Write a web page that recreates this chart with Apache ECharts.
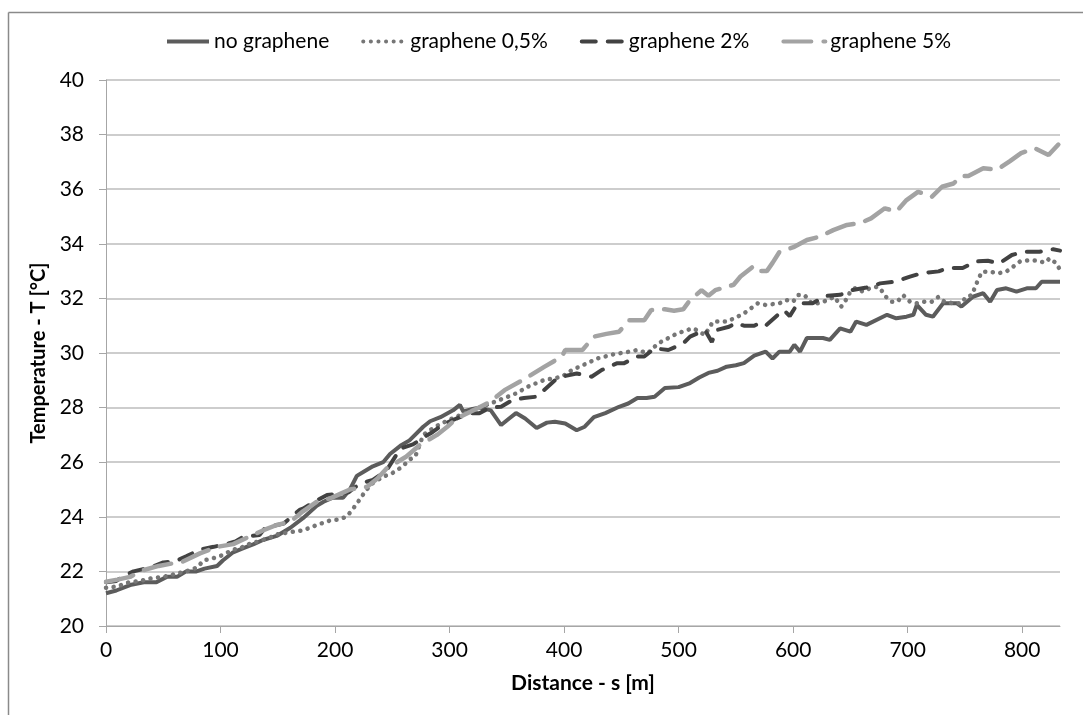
<!DOCTYPE html>
<html>
<head>
<meta charset="utf-8">
<title>Temperature vs distance</title>
<script src="https://cdn.jsdelivr.net/npm/echarts@6/dist/echarts.min.js"></script>
<style>
	html, body { margin: 0; padding: 0; background: #fff; }
	#chart { width: 1083px; height: 715px; }
</style>
</head>
<body>
<div id="chart"></div>
<script>
	// distance [m] / temperature [°C]
	var noGraphene = [
		[0,21.2],[9,21.3],[21,21.5],[33,21.6],[44,21.6],[53,21.8],[62,21.8],[70,22.0],[79,22.0],[86,22.1],
		[97,22.2],[102,22.4],[111,22.7],[120,22.85],[129,23.0],[137,23.15],[149,23.3],[161,23.6],[172,23.95],[184,24.4],
		[190,24.55],[198,24.7],[207,24.7],[213,25.0],[219,25.5],[225,25.65],[233,25.85],[242,26.0],[248,26.3],[257,26.6],
		[265,26.8],[277,27.3],[283,27.5],[292,27.65],[303,27.9],[309,28.1],[312,27.85],[320,27.95],[326,28.0],[336,27.9],
		[345,27.36],[352,27.6],[358,27.8],[366,27.6],[376,27.25],[385,27.45],[392,27.48],[401,27.42],[411,27.17],[418,27.3],
		[426,27.65],[436,27.8],[448,28.03],[456,28.15],[464,28.35],[472,28.35],[479,28.4],[488,28.72],[500,28.75],[510,28.9],
		[518,29.1],[526,29.27],[534,29.35],[542,29.5],[550,29.55],[557,29.63],[566,29.9],[576,30.05],[582,29.8],[588,30.05],
		[597,30.05],[601,30.3],[606,30.05],[612,30.55],[626,30.55],[632,30.48],[641,30.9],[650,30.78],[655,31.15],[664,31.03],
		[682,31.4],[690,31.27],[699,31.33],[705,31.4],[708,31.76],[716,31.4],[722,31.33],[731,31.82],[743,31.82],[747,31.7],
		[757,32.06],[766,32.19],[772,31.88],[778,32.31],[786,32.37],[795,32.25],[804,32.37],[812,32.37],[817,32.61],[833,32.61]
	];
	var graphene05 = [
		[0,21.4],[10,21.45],[20,21.6],[30,21.65],[40,21.75],[50,21.8],[60,21.9],[70,22.0],[80,22.15],[85,22.4],
		[95,22.5],[102,22.6],[111,22.8],[117,22.85],[125,23.0],[133,23.1],[141,23.2],[149,23.35],[155,23.4],[163,23.45],
		[172,23.5],[184,23.7],[196,23.87],[203,23.9],[210,24.0],[214,24.2],[219,24.48],[227,24.97],[233,25.23],[242,25.47],
		[250,25.6],[259,25.84],[265,26.1],[270,26.2],[277,27.0],[284,27.2],[292,27.4],[306,27.67],[320,27.9],[336,28.16],
		[348,28.35],[358,28.52],[370,28.8],[382,29.0],[398,29.13],[407,29.38],[420,29.62],[429,29.8],[443,29.95],[457,30.05],
		[464,30.11],[473,29.99],[482,30.35],[488,30.48],[498,30.7],[507,30.84],[513,30.9],[523,30.66],[530,31.15],[542,31.15],
		[550,31.3],[557,31.45],[569,31.82],[576,31.76],[588,31.82],[594,31.94],[600,31.88],[604,32.12],[610,32.12],[616,31.82],
		[623,31.82],[630,31.94],[636,32.06],[642,31.7],[646,31.94],[650,32.25],[654,32.37],[661,32.25],[667,32.37],[674,32.43],
		[678,32.25],[681,32.06],[686,31.88],[691,31.88],[696,32.12],[702,31.88],[708,31.82],[715,31.88],[721,31.88],[727,32.06],
		[732,31.88],[740,31.82],[747,31.82],[751,32.06],[756,32.12],[762,32.74],[765,32.98],[772,32.98],[779,32.92],[786,32.98],
		[792,33.16],[798,33.35],[805,33.39],[812,33.39],[820,33.31],[824,33.47],[830,33.28],[833,33.04]
	];
	var graphene2 = [
		[0,21.6],[9,21.65],[16,21.85],[24,22.0],[34,22.1],[42,22.2],[50,22.33],[60,22.36],[70,22.55],[82,22.8],
		[94,22.9],[105,23.0],[113,23.1],[120,23.27],[134,23.33],[139,23.6],[155,23.75],[162,24.0],[169,24.25],[172,24.3],
		[184,24.6],[193,24.8],[204,24.85],[212,24.9],[218,25.1],[225,25.25],[233,25.35],[245,25.7],[257,26.5],[268,26.65],
		[277,26.9],[285,27.1],[295,27.4],[306,27.6],[318,27.8],[326,27.79],[335,28.0],[345,28.03],[355,28.28],[365,28.35],
		[376,28.4],[392,29.0],[398,29.13],[411,29.25],[424,29.13],[433,29.38],[446,29.62],[452,29.62],[464,29.87],[470,29.87],
		[479,30.17],[491,30.11],[504,30.35],[510,30.6],[523,30.84],[529,30.4],[533,30.84],[544,30.96],[550,31.1],[557,31.0],
		[566,31.0],[571,31.1],[576,31.0],[588,31.45],[592,31.57],[597,31.35],[604,31.82],[617,31.82],[628,32.09],[641,32.13],
		[652,32.31],[664,32.4],[676,32.55],[689,32.61],[702,32.8],[713,32.93],[727,32.99],[735,33.11],[748,33.11],[759,33.35],
		[770,33.38],[780,33.28],[791,33.59],[802,33.71],[815,33.71],[827,33.8],[833,33.75]
	];
	var graphene5 = [
		[0,21.62],[10,21.7],[21,21.8],[33,22.05],[46,22.2],[59,22.3],[67,22.36],[82,22.66],[97,22.9],[111,23.0],
		[125,23.27],[137,23.5],[149,23.7],[161,23.82],[172,24.2],[184,24.55],[196,24.68],[205,24.85],[213,25.0],[228,25.1],
		[237,25.4],[245,25.77],[262,26.2],[274,26.63],[289,27.0],[298,27.3],[306,27.6],[316,27.8],[324,27.97],[335,28.2],
		[348,28.64],[364,29.01],[383,29.5],[398,29.87],[401,30.11],[416,30.11],[426,30.6],[437,30.7],[448,30.78],[457,31.2],
		[470,31.2],[476,31.57],[488,31.6],[496,31.55],[504,31.6],[510,31.94],[520,32.3],[526,32.1],[532,32.3],[548,32.5],
		[554,32.8],[566,33.2],[572,33.0],[577,33.0],[582,33.3],[588,33.7],[601,33.89],[612,34.14],[623,34.26],[635,34.5],
		[647,34.69],[658,34.75],[668,34.93],[680,35.3],[690,35.18],[699,35.6],[709,35.9],[716,35.82],[721,35.72],[730,36.09],
		[740,36.21],[747,36.48],[753,36.48],[766,36.77],[778,36.71],[789,37.02],[799,37.32],[811,37.5],[823,37.25],[833,37.7]
	];
	var seriesNames = ['no graphene', 'graphene 0,5%', 'graphene 2%', 'graphene 5%'];
	var xTicks = [0, 100, 200, 300, 400, 500, 600, 700, 800];

	var chart = echarts.init(document.getElementById('chart'));
	var font = 'Lato';

	var option = {
		animation: false,
		textStyle: { fontFamily: font, color: '#000' },
		// outer frame of the original picture (only left and top are visible)
		graphic: [
			{ type: 'line', shape: { x1: 8.5, y1: 12.5, x2: 8.5, y2: 715 }, style: { stroke: '#8a8a8a', lineWidth: 1.5 } },
			{ type: 'line', shape: { x1: 8.5, y1: 12.5, x2: 1083, y2: 12.5 }, style: { stroke: '#8a8a8a', lineWidth: 1.5 } }
		],
		legend: {
			data: seriesNames,
			top: 26,
			left: 160,
			itemWidth: 42,
			itemHeight: 14,
			itemGap: 32,
			// no marker on the legend line, just the stroke
			itemStyle: { opacity: 0 },
			lineStyle: { width: 4 },
			textStyle: { fontFamily: font, fontSize: 21, color: '#000' }
		},
		grid: { left: 106, right: 23, top: 80, bottom: 89, containLabel: false },
		xAxis: {
			type: 'value',
			min: 0,
			max: 833,
			name: 'Distance - s [m]',
			nameLocation: 'middle',
			nameGap: 47,
			nameTextStyle: { fontFamily: font, fontSize: 21, fontWeight: 'bold', color: '#000' },
			axisLine: { show: true, lineStyle: { color: '#a6a6a6', width: 1 } },
			axisTick: { show: true, length: 7, customValues: xTicks, lineStyle: { color: '#a6a6a6' } },
			axisLabel: { customValues: xTicks, margin: 14, fontSize: 21, color: '#000', fontFamily: font },
			splitLine: { show: false }
		},
		yAxis: {
			type: 'value',
			min: 20,
			max: 40,
			interval: 2,
			name: 'Temperature - T [°C]',
			nameLocation: 'middle',
			nameGap: 45,
			nameTextStyle: { fontFamily: font, fontSize: 20, fontWeight: 'bold', color: '#000' },
			axisLine: { show: true, lineStyle: { color: '#a6a6a6', width: 1 } },
			axisTick: { show: true, length: 7, lineStyle: { color: '#a6a6a6' } },
			axisLabel: { margin: 22, fontSize: 21, color: '#000', fontFamily: font },
			splitLine: { show: true, lineStyle: { color: '#bcbcbc', width: 1.5 } }
		},
		series: [
			{
				name: seriesNames[0], type: 'line', symbol: 'none', data: noGraphene,
				lineStyle: { color: '#5c5c5c', width: 4, type: 'solid' },
				itemStyle: { color: '#5c5c5c' }
			},
			{
				name: seriesNames[1], type: 'line', symbol: 'none', data: graphene05,
				lineStyle: { color: '#767676', width: 4.5, type: [0.1, 7.5], cap: 'round' },
				itemStyle: { color: '#767676' }
			},
			{
				name: seriesNames[2], type: 'line', symbol: 'none', data: graphene2,
				lineStyle: { color: '#424242', width: 4, type: [14, 12], cap: 'round' },
				itemStyle: { color: '#424242' }
			},
			{
				name: seriesNames[3], type: 'line', symbol: 'none', data: graphene5,
				lineStyle: { color: '#a3a3a3', width: 4.5, type: [28, 12], cap: 'round' },
				itemStyle: { color: '#a3a3a3' }
			}
		]
	};

	chart.setOption(option);
</script>
</body>
</html>
